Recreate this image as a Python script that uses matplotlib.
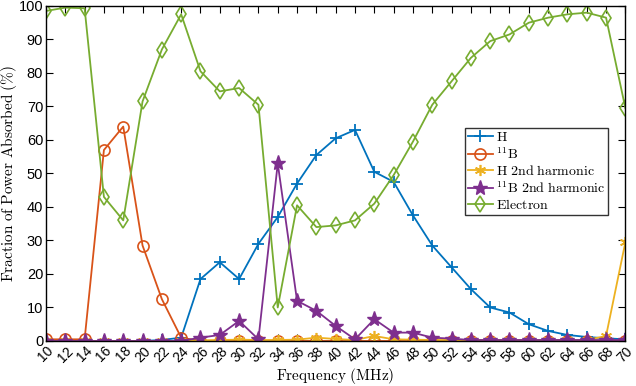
import matplotlib.pyplot as plt
import numpy as np

plt.rcParams["mathtext.fontset"] = "cm"
plt.rcParams["font.family"] = ["Liberation Sans", "DejaVu Sans"]

freq = np.arange(10, 71, 2)

h = [0, 0, 0, 0, 0, 0, 0.3, 1, 18.5, 23.5, 18.5, 29, 37, 47, 55.5, 60.5,
     63, 50.5, 47.5, 37.5, 28.5, 22, 15.5, 10, 8.5, 5, 3, 1.8, 1.2, 0.8, 0.5]
b11 = [0.5, 0.5, 0.5, 57, 64, 28.5, 12.5, 1, 0, 0, 0, 0, 0, 0, 0, 0,
       0, 0, 0, 0, 0, 0, 0, 0, 0, 0, 0, 0, 0, 0, 0]
h2 = [0, 0, 0, 0, 0, 0, 0, 0, 0.2, 0.3, 0.4, 0.3, 0.3, 0.4, 1.0, 0.6,
      0.3, 1.5, 0.5, 0.4, 0.3, 0.3, 0.3, 0.3, 0.3, 0.3, 0.3, 0.3, 0.3, 1.5, 29.5]
b11_2 = [0, 0, 0, 0, 0, 0, 0, 0, 1, 1.8, 6, 0.5, 53, 12, 9, 4.5,
         0.5, 6.5, 2.5, 2.5, 1, 0.7, 0.3, 0.3, 0.3, 0.3, 0.3, 0.3, 0.3, 0.3, 0.3]
electron = [98.5, 99.5, 99.3, 43, 36, 71.5, 87, 97.5, 80.5, 74.5, 75.5, 70.5,
            10, 40.5, 34, 34.5, 36, 41, 49.5, 59.5, 70.5, 77.5, 84.5, 89.5,
            91.5, 95, 96.5, 97.5, 98, 96.5, 69.5]

fig = plt.figure(figsize=(6.36, 3.86), dpi=100)
ax = fig.add_axes([0.0723, 0.1166, 0.911, 0.868])

asterisk = (6, 2, 0)
ax.plot(freq, h, color="#0072BD", marker="+", ms=8, mew=1.3, lw=1.3,
        label=r"$\mathrm{H}$")
ax.plot(freq, b11, color="#D95319", marker="o", ms=8, mfc="none", mew=1.2,
        lw=1.3, label=r"$^{11}\mathrm{B}$")
ax.plot(freq, h2, color="#EDB120", marker=asterisk, ms=8, mew=1.2, lw=1.3,
        label=r"$\mathrm{H\ 2nd\ harmonic}$")
ax.plot(freq, b11_2, color="#7E2F8E", marker="*", ms=11, mew=1.0, lw=1.3,
        label=r"$^{11}\mathrm{B\ 2nd\ harmonic}$")
ax.plot(freq, electron, color="#77AC30", marker="d", ms=8, mfc="none", mew=1.2,
        lw=1.3, label=r"$\mathrm{Electron}$")

ax.set_xlim(10, 70)
ax.set_ylim(0, 100)
ax.set_xticks(freq)
ax.set_yticks(np.arange(0, 101, 10))
ax.tick_params(direction="in", top=True, right=True, length=5)
ax.tick_params(axis="y", labelsize=10.5, pad=2)
ax.tick_params(axis="x", labelsize=10, pad=2)
plt.setp(ax.get_xticklabels(), rotation=45, ha="center", va="top")
for s in ax.spines.values():
    s.set_linewidth(1.0)

ax.set_xlabel(r"$\mathrm{Frequency\ (MHz)}$", fontsize=11, labelpad=1)
ax.set_ylabel(r"$\mathrm{Fraction\ of\ Power\ Absorbed\ (\%)}$", fontsize=11)
ax.yaxis.set_label_coords(-0.047, 0.5)

leg = ax.legend(loc="upper right", bbox_to_anchor=(0.97, 0.637), fontsize=10,
                frameon=True, fancybox=False, edgecolor="black",
                handlelength=1.8, borderpad=0.2, labelspacing=0.15,
                handletextpad=0.2, borderaxespad=0)
leg.get_frame().set_linewidth(1.0)

fig.savefig("out.png", dpi=100)
